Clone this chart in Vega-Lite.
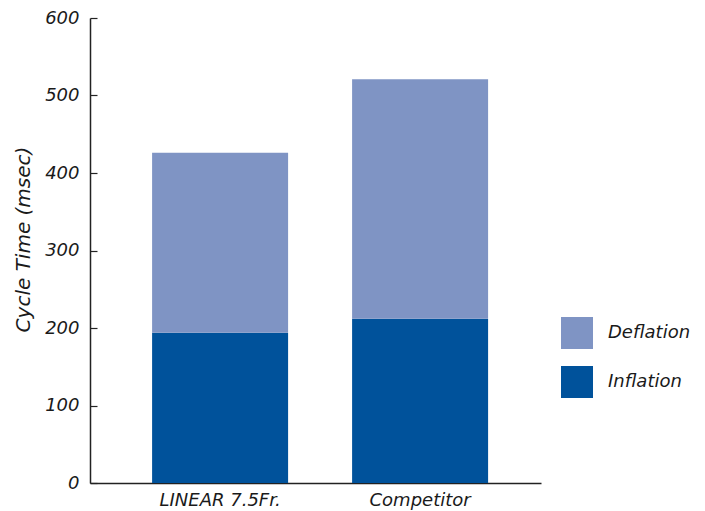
{
  "$schema": "https://vega.github.io/schema/vega-lite/v6.json",
  "autosize": {"type": "none"},
  "width": 451,
  "height": 465,
  "padding": {"left": 90, "top": 18, "right": 164, "bottom": 28},
  "background": "white",
  "config": {
    "view": {"stroke": null},
    "font": "DejaVu Sans"
  },
  "data": {
    "values": [
      {"device": "LINEAR 7.5Fr.", "component": "Inflation", "time": 194},
      {"device": "LINEAR 7.5Fr.", "component": "Deflation", "time": 232},
      {"device": "Competitor", "component": "Inflation", "time": 212},
      {"device": "Competitor", "component": "Deflation", "time": 309}
    ]
  },
  "mark": {"type": "bar"},
  "encoding": {
    "x": {
      "field": "device",
      "type": "nominal",
      "sort": ["LINEAR 7.5Fr.", "Competitor"],
      "scale": {"paddingInner": 0.32, "paddingOuter": 0.2875, "align": 0.54},
      "axis": {
        "title": null,
        "labelAngle": 0,
        "ticks": false,
        "labelFont": "DejaVu Sans",
        "labelFontStyle": "italic",
        "labelFontSize": 18,
        "labelColor": "#1a1a1a",
        "labelPadding": 8,
        "domainColor": "#222222",
        "domainWidth": 1.5
      }
    },
    "y": {
      "field": "time",
      "type": "quantitative",
      "stack": "zero",
      "scale": {"domain": [0, 600], "nice": false},
      "axis": {
        "title": "Cycle Time (msec)",
        "titleFont": "DejaVu Sans",
        "titleFontStyle": "italic",
        "titleFontWeight": "normal",
        "titleFontSize": 20,
        "titleColor": "#1a1a1a",
        "titlePadding": 11,
        "titleY": 221,
        "values": [0, 100, 200, 300, 400, 500, 600],
        "grid": false,
        "tickSize": -7,
        "tickColor": "#222222",
        "tickWidth": 1.2,
        "labelFont": "DejaVu Sans",
        "labelFontStyle": "italic",
        "labelFontSize": 18,
        "labelColor": "#1a1a1a",
        "labelPadding": 18,
        "domainColor": "#222222",
        "domainWidth": 1.5
      }
    },
    "color": {
      "field": "component",
      "type": "nominal",
      "scale": {"domain": ["Deflation", "Inflation"], "range": ["#7F94C4", "#00529B"]},
      "legend": {
        "title": null,
        "orient": "none",
        "legendX": 471,
        "legendY": 299,
        "padding": 0,
        "symbolType": "square",
        "symbolSize": 1024,
        "symbolStrokeWidth": 0,
        "symbolOpacity": 1,
        "rowPadding": 17,
        "labelOffset": 15,
        "labelFont": "DejaVu Sans",
        "labelFontStyle": "italic",
        "labelFontSize": 18,
        "labelColor": "#1a1a1a"
      }
    },
    "order": {"field": "component", "sort": "descending"}
  }
}
